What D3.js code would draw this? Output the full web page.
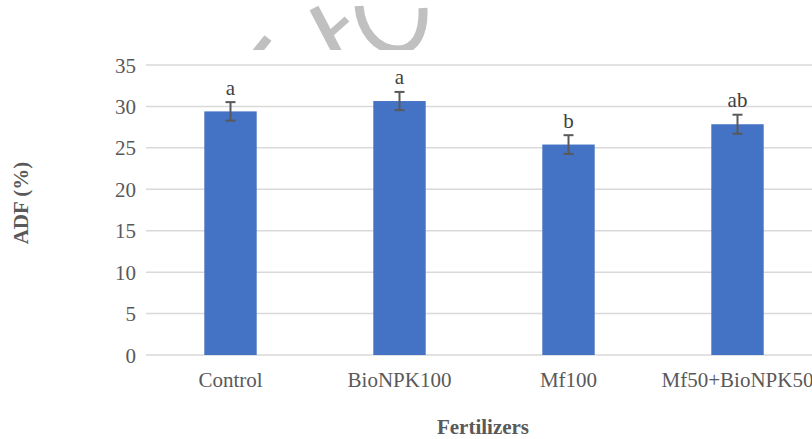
<!DOCTYPE html>
<html><head><meta charset="utf-8">
<script src="https://cdn.jsdelivr.net/npm/d3@7"></script>
<style>
html,body{margin:0;padding:0;background:#fff;}
svg{display:block;}
text{font-family:"Liberation Serif","Times New Roman",serif;}
</style></head>
<body>
<svg id="c" width="812" height="439"></svg>
<script>
const categories = ["Control", "BioNPK100", "Mf100", "Mf50+BioNPK50"];
const values = [29.4, 30.65, 25.4, 27.85];
const errors = [1.12, 1.1, 1.13, 1.15];
const letters = ["a", "a", "b", "ab"];
const yTicks = [0, 5, 10, 15, 20, 25, 30, 35];

const svg = d3.select("#c");
const x = d3.scaleBand().domain(categories).range([146, 822]).paddingInner(0.69).paddingOuter(0.345);
const y = d3.scaleLinear().domain([0, 35]).range([355, 65]);

// watermark fragments
svg.append("defs").append("clipPath").attr("id", "wmclip").append("rect").attr("x", 0).attr("y", 0).attr("width", 812).attr("height", 50);
const wm = svg.append("g").attr("fill", "none").attr("stroke", "#c0c0c0").attr("clip-path", "url(#wmclip)");
wm.append("path").attr("d", "M252,58 L268,38").attr("stroke-width", 9);
wm.append("path").attr("d", "M314,8 L338,54").attr("stroke-width", 10);
wm.append("path").attr("d", "M347,19 L329,35").attr("stroke-width", 7);
wm.append("path").attr("d", "M359,6 C361,30 376,50 398,50 C415,50 424,34 423,8").attr("stroke-width", 9);

// gridlines
svg.append("g").selectAll("line").data(yTicks).join("line")
  .attr("x1", 146).attr("x2", 812)
  .attr("y1", d => y(d)).attr("y2", d => y(d))
  .attr("stroke", "#d9d9d9").attr("stroke-width", 1.5);

// y tick labels
svg.append("g").selectAll("text").data(yTicks).join("text")
  .attr("x", 136).attr("y", d => y(d) + 7.5)
  .attr("text-anchor", "end").attr("font-size", 21).attr("fill", "#595959")
  .text(d => d);

// bars
svg.append("g").selectAll("rect").data(categories).join("rect")
  .attr("x", d => x(d)).attr("width", x.bandwidth())
  .attr("y", (d, i) => y(values[i])).attr("height", (d, i) => y(0) - y(values[i]))
  .attr("fill", "#4472c4");

// error bars
const eb = svg.append("g").attr("stroke", "#595959").attr("stroke-width", 2);
categories.forEach((c, i) => {
  const cx = x(c) + x.bandwidth() / 2;
  const t = y(values[i] + errors[i]), b = y(values[i] - errors[i]);
  eb.append("line").attr("x1", cx).attr("x2", cx).attr("y1", t).attr("y2", b);
  eb.append("line").attr("x1", cx - 5).attr("x2", cx + 5).attr("y1", t).attr("y2", t);
  eb.append("line").attr("x1", cx - 5).attr("x2", cx + 5).attr("y1", b).attr("y2", b);
});

// letters
svg.append("g").selectAll("text").data(categories).join("text")
  .attr("x", d => x(d) + x.bandwidth() / 2)
  .attr("y", (d, i) => y(values[i] + errors[i]) - 7.5)
  .attr("text-anchor", "middle").attr("font-size", 21).attr("fill", "#404040")
  .text((d, i) => letters[i]);

// category labels
svg.append("g").selectAll("text").data(categories).join("text")
  .attr("x", d => x(d) + x.bandwidth() / 2).attr("y", 387)
  .attr("text-anchor", "middle").attr("font-size", 21).attr("fill", "#595959")
  .text(d => d);

// axis titles
svg.append("text").attr("x", 483).attr("y", 434).attr("text-anchor", "middle")
  .attr("font-size", 21).attr("font-weight", "bold").attr("fill", "#595959").text("Fertilizers");
svg.append("text").attr("transform", "translate(28,203) rotate(-90)").attr("text-anchor", "middle")
  .attr("font-size", 21).attr("font-weight", "bold").attr("fill", "#595959").text("ADF (%)");
</script>
</body></html>
